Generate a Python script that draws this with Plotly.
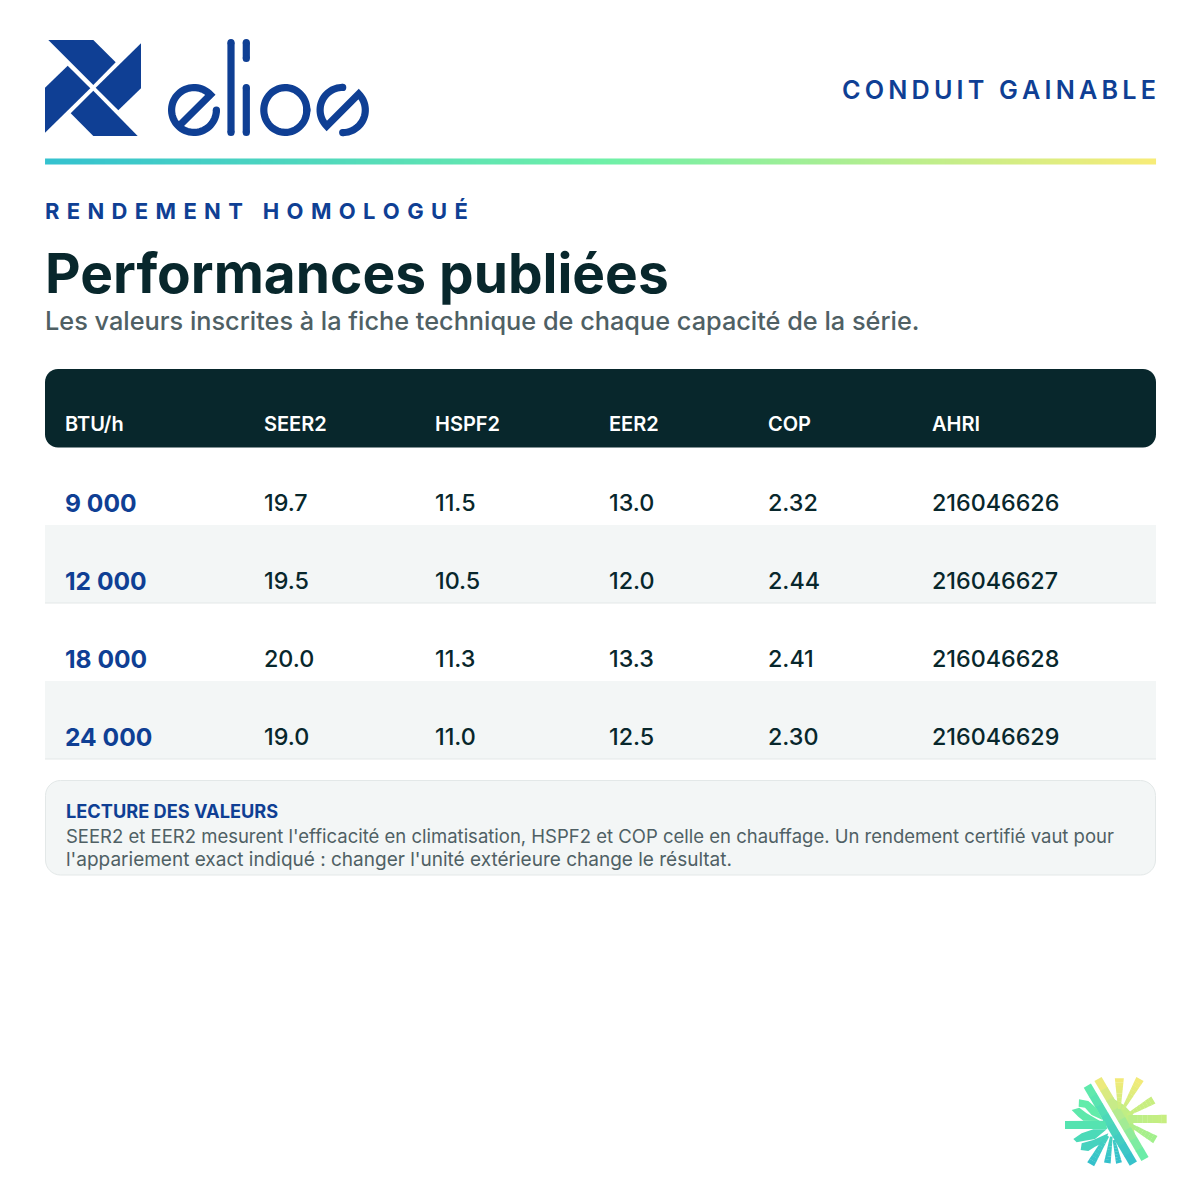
import numpy as np
import plotly.graph_objects as go

BLUE = "#0f3f94"
DARK = "#08272c"
MUTED = "#4f6064"
BAND = "#f3f6f6"
RULE = "#e3e8e8"
FONT = "Inter"

# table data
columns = ["BTU/h", "SEER2", "HSPF2", "EER2", "COP", "AHRI"]
btu = ["9 000", "12 000", "18 000", "24 000"]
seer2 = ["19.7", "19.5", "20.0", "19.0"]
hspf2 = ["11.5", "10.5", "11.3", "11.0"]
eer2 = ["13.0", "12.0", "13.3", "12.5"]
cop = ["2.32", "2.44", "2.41", "2.30"]
ahri = ["216046626", "216046627", "216046628", "216046629"]

# layout, in page pixels
col_x = [65, 264, 435, 609, 768, 932]
row_top = 447
row_h = 78
row_text = [505, 583, 661, 739]
btu_text = [506, 584, 662, 740]
LEFT, RIGHT = 45, 1156
PAGE_MARGIN = 8  # the browser's default body margin


def spaced(text, sep="\u2009"):
    return sep.join(text)


def rounded(x0, y0, x1, y1, r):
    k = r * 0.45
    return (
        f"M {x0+r} {y0} L {x1-r} {y0} C {x1-k} {y0} {x1} {y0+k} {x1} {y0+r} "
        f"L {x1} {y1-r} C {x1} {y1-k} {x1-k} {y1} {x1-r} {y1} "
        f"L {x0+r} {y1} C {x0+k} {y1} {x0} {y1-k} {x0} {y1-r} "
        f"L {x0} {y0+r} C {x0} {y0+k} {x0+k} {y0} {x0+r} {y0} Z"
    )


def poly(points):
    return "M " + " L ".join(f"{x:.2f} {y:.2f}" for x, y in points) + " Z"


def arc(cx, cy, rx, ry, a0, a1, n=40):
    t = np.radians(np.linspace(a0, a1, n))
    return list(zip(cx + rx * np.cos(t), cy + ry * np.sin(t)))


def open_path(points):
    return "M " + " L ".join(f"{x:.2f} {y:.2f}" for x, y in points)


def mix(c0, c1, t):
    a = [int(c0[i:i + 2], 16) for i in (1, 3, 5)]
    b = [int(c1[i:i + 2], 16) for i in (1, 3, 5)]
    return "#" + "".join(f"{round(p + (q - p) * t):02x}" for p, q in zip(a, b))


shapes = []


def fill_shape(path, color):
    shapes.append(dict(type="path", path=path, fillcolor=color, line_width=0, layer="below"))


def stroke(points, width=7.2, color=BLUE):
    shapes.append(dict(type="path", path=open_path(points), line=dict(color=color, width=width), layer="below"))
    for x, y in (points[0], points[-1]):
        r = width / 2
        shapes.append(dict(type="circle", x0=x - r, x1=x + r, y0=y - r, y1=y + r,
                           fillcolor=color, line_width=0, layer="below"))


# pinwheel mark
for pts in (
    [(48.3, 40), (93.3, 40), (115.7, 62.3), (93.3, 85)],
    [(141, 43.3), (141, 88.3), (118.3, 110.3), (95.7, 87.7)],
    [(137.7, 136), (93.3, 136), (70.7, 113.3), (93.3, 90.7)],
    [(45, 132.7), (45, 87.7), (67.7, 65.7), (90.3, 88.3)],
):
    fill_shape(poly(pts), BLUE)

# wordmark
stroke([(180, 125)] + arc(194, 110, 22.4, 22.4, -43, -360, 60))
stroke([(231, 42.5), (231, 132.5)])
stroke([(246.3, 42.5), (246.3, 58.5)])
stroke([(246.3, 87.5), (246.3, 132.5)])
stroke(arc(285.3, 110, 21.5, 22.4, 0, 360, 60))
stroke(arc(342.7, 110, 22.6, 22.6, -90, -225, 30) + arc(342.7, 110, 22.6, 22.6, -45, 90, 30))


# snowflake mark, traced on a 3x grid from (1050, 1065)
def flake(points):
    return [(1050 + x / 3, 1065 + y / 3) for x, y in points]


def ray(z0, z1, c0, c1, w0, w1=None, n=8):
    w1 = w0 if w1 is None else w1
    (p0, p1) = [np.array(p) for p in flake([z0, z1])]
    d = (p1 - p0) / np.linalg.norm(p1 - p0)
    nrm = np.array([-d[1], d[0]])
    for i in range(n):
        a, b = i / n, (i + 1.05) / n
        wa = (w0 + (w1 - w0) * a) / 6
        wb = (w0 + (w1 - w0) * min(b, 1)) / 6
        pa, pb = p0 + (p1 - p0) * a, p0 + (p1 - p0) * min(b, 1)
        fill_shape(poly([pa + nrm * wa, pb + nrm * wb, pb - nrm * wb, pa - nrm * wa]),
                   mix(c0, c1, (i + 0.5) / n))


Y, L, G, M, T = "#f5ea78", "#c8ee80", "#a0f08c", "#62ecaa", "#33bfcc"
fill_shape(poly(flake([(188, 100), (222, 120), (250, 150), (250, 180), (255, 212), (225, 170)])), "#c0ee84")
ray((144, 42), (285, 282), Y, M, 25)
ray((208, 40), (208, 132), Y, L, 27, 8)
ray((270, 42), (218, 134), Y, L, 25, 8)
ray((310, 105), (232, 150), L, L, 25, 8)
ray((350, 162), (235, 162), L, "#b8ee88", 25, 24)
ray((316, 224), (238, 178), G, "#b0ee88", 25, 10)
ray((112, 62), (250, 296), M, T, 25)
fill_shape(poly(flake([(87, 103), (115, 108), (140, 130), (158, 165), (125, 150), (105, 128), (86, 125)])), "#62ecaa")
fill_shape(poly(flake([(65, 135), (88, 128), (110, 145), (150, 168), (100, 167), (85, 155)])), "#5ee8ab")
fill_shape(poly(flake([(45, 168), (165, 167), (172, 192), (45, 192)])), "#55e3b0")
fill_shape(poly(flake([(170, 193), (130, 193), (95, 205), (70, 222), (80, 232), (100, 228), (135, 222)])), "#4cdab8")
fill_shape(poly(flake([(95, 235), (130, 225), (175, 205), (165, 230), (135, 245), (115, 258), (92, 255)])), "#46d2be")
ray((122, 298), (172, 212), T, "#45d4be", 24, 12)
ray((172, 294), (184, 215), T, "#45d4be", 20, 8)
ray((207, 294), (192, 225), T, "#3ecac4", 18, 8)

# table furniture
fill_shape(rounded(LEFT, 369, RIGHT, row_top + 0.5, 13), DARK)
for i in range(len(btu)):
    top = row_top + i * row_h
    if i % 2 == 1:
        fill_shape(f"M {LEFT} {top} L {RIGHT} {top} L {RIGHT} {top+row_h} L {LEFT} {top+row_h} Z", BAND)
        shapes.append(dict(type="line", x0=LEFT, x1=RIGHT, y0=top + row_h, y1=top + row_h,
                           line=dict(color=RULE, width=1), layer="below"))

# note box
shapes.append(dict(type="path", path=rounded(45.5, 780.5, 1155.5, 875, 15), fillcolor=BAND,
                   line=dict(color=RULE, width=1), layer="below"))

fig = go.Figure()

# gradient rule under the header
ramp = np.linspace(0, 1, 112)
fig.add_trace(go.Heatmap(
    z=[ramp, ramp], x=np.linspace(LEFT + 5, RIGHT - 5, 112), y=[160, 163], zsmooth="best", showscale=False,
    hoverinfo="skip", zmin=0, zmax=1,
    colorscale=[[0, "#35c2cf"], [0.5, "#6ef0a8"], [1, "#f7ec78"]],
))

# header row and table cells
fig.add_trace(go.Scatter(
    x=col_x, y=[425.5] * len(col_x), text=columns, mode="text", textposition="middle right",
    textfont=dict(family=FONT, size=20, color="#ffffff", weight=600), hoverinfo="skip",
))
fig.add_trace(go.Scatter(
    x=[col_x[0]] * len(btu), y=btu_text, text=btu, mode="text", textposition="middle right",
    textfont=dict(family=FONT, size=24.6, color=BLUE, weight=700), hoverinfo="skip",
))
for x, values in zip(col_x[1:], [seer2, hspf2, eer2, cop, ahri]):
    fig.add_trace(go.Scatter(
        x=[x] * len(values), y=row_text, text=values, mode="text", textposition="middle right",
        textfont=dict(family=FONT, size=23.3, color=DARK, weight=500), hoverinfo="skip",
    ))


def label(x, y, text, size, color, weight=400, anchor="left"):
    return dict(x=x, y=y, text=text, xref="x", yref="y", xanchor=anchor, yanchor="middle", showarrow=False,
                borderpad=0, borderwidth=0,
                font=dict(family=FONT, size=size, color=color, weight=weight))


annotations = [
    label(1156, 90, spaced("CONDUIT GAINABLE"), 25.2, BLUE, 600, "right"),
    label(45, 210.5, spaced("RENDEMENT HOMOLOGUÉ", "\u2004"), 22, BLUE, 700),
    label(45, 273, "Performances publiées", 55, DARK, 700),
    label(45, 320.5, "Les valeurs inscrites à la fiche technique de chaque capacité de la série.", 25.3, MUTED, 500),
    label(66, 810.5, "LECTURE DES VALEURS", 18.2, BLUE, 700),
    label(66, 836, "SEER2 et EER2 mesurent l'efficacité en climatisation, HSPF2 et COP celle en chauffage. Un rendement certifié vaut pour", 18.5, MUTED),
    label(66, 859, "l'appariement exact indiqué : changer l'unité extérieure change le résultat.", 19, MUTED),
]

fig.update_layout(
    width=1200, height=1200, margin=dict(l=0, r=0, t=0, b=0),
    paper_bgcolor="#ffffff", plot_bgcolor="#ffffff", showlegend=False,
    xaxis=dict(range=[PAGE_MARGIN, 1200 + PAGE_MARGIN], visible=False, fixedrange=True),
    yaxis=dict(range=[1200 + PAGE_MARGIN, PAGE_MARGIN], visible=False, fixedrange=True),
    shapes=shapes, annotations=annotations,
)

fig.write_html("out.html")
